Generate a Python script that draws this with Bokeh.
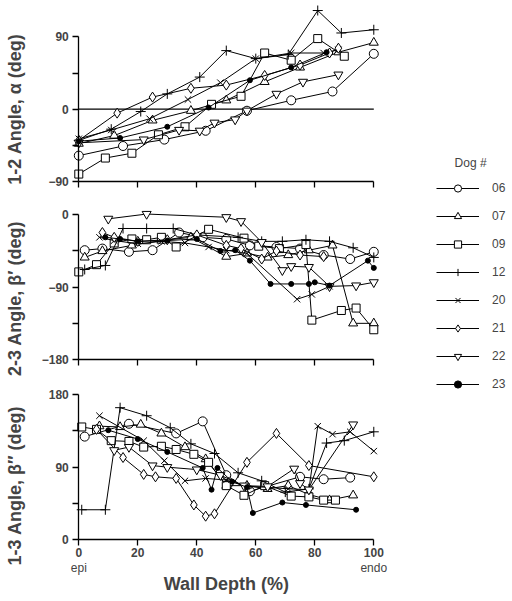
import math
from bokeh.plotting import figure
from bokeh.models import (Range1d, FixedTicker, Label, Legend, LegendItem, LinearAxis)
from bokeh.embed import file_html
from bokeh.resources import INLINE

DOGS = ["06", "07", "09", "12", "20", "21", "22", "23"]
X_TICKS = [0, 20, 40, 60, 80, 100]

# ---- 1-2 angle, alpha ----
a_x_06 = [0, 15, 29, 43, 57, 72, 86, 100]
a_y_06 = [-58, -46, -38, -27, -2, 11, 22, 69]
a_x_07 = [0, 12, 25, 38, 50, 63, 75, 88, 100]
a_y_07 = [-43, -33, -14, -2, 11, 34, 52, 71, 83]
a_x_09 = [0, 9, 18, 27, 36, 45, 55, 63, 72, 81, 90]
a_y_09 = [-81, -61, -55, -32, -22, 6, 16, 70, 61, 88, 66]
a_x_12 = [0, 11, 21, 30, 41, 50, 60, 71, 81, 89, 100]
a_y_12 = [-39, -25, -3, 19, 40, 73, 63, 68, 123, 95, 99]
a_x_20 = [0, 11, 24, 37, 48, 60, 72, 83, 88]
a_y_20 = [-37, -26, -12, 12, 33, 63, 70, 70, 74]
a_x_21 = [0, 13, 25, 38, 50, 63, 75, 85, 88]
a_y_21 = [-39, -5, 15, 26, 30, 42, 55, 70, 76]
a_x_22 = [0, 22, 34, 41, 46, 53, 57, 67, 76, 88]
a_y_22 = [-42, -38, -26, -27, -17, -13, -2, 19, 34, 43]
a_x_23 = [0, 14, 30, 44, 58, 72, 84]
a_y_23 = [-40, -36, -22, 2, 36, 52, 71]

# ---- 2-3 angle, beta' ----
b_x_06 = [2, 8, 17, 25, 34, 42, 50, 58, 67, 75, 83, 92, 100]
b_y_06 = [-44, -42, -46, -44, -22, -28, -30, -38, -40, -42, -50, -55, -46]
b_x_07 = [2, 8, 18, 28, 38, 50, 57, 64, 71, 78, 86, 93, 100]
b_y_07 = [-53, -45, -38, -32, -28, -52, -48, -53, -50, -44, -38, -135, -135]
b_x_09 = [0, 6, 12, 18, 23, 28, 33, 44, 56, 61, 68, 77, 79, 89, 94, 100]
b_y_09 = [-71, -62, -35, -30, -31, -28, -40, -18, -29, -39, -42, -37, -131, -119, -116, -143]
b_x_12 = [2, 9, 15, 23, 32, 40, 54, 62, 69, 77, 85, 93, 100]
b_y_12 = [-68, -63, -17, -17, -17, -25, -28, -33, -33, -31, -33, -41, -53]
b_x_20 = [7, 12, 20, 28, 36, 44, 50, 57, 74, 79, 85]
b_y_20 = [-28, -32, -36, -33, -35, -40, -44, -48, -105, -99, -89]
b_x_21 = [8, 12, 20, 30, 40, 50, 55, 62, 67, 75, 83]
b_y_21 = [-22, -28, -33, -31, -25, -38, -42, -55, -45, -50, -52]
b_x_22 = [10, 23, 50, 55, 62, 69, 72, 78, 85, 94, 100]
b_y_22 = [-5, 1, -3, -8, -34, -69, -64, -65, -89, -88, -84]
b_x_23 = [9, 14, 20, 30, 40, 48, 53, 58, 65, 72, 78, 80, 85, 98, 100]
b_y_23 = [-28, -30, -33, -32, -30, -45, -44, -57, -86, -86, -86, -84, -88, -57, -66]

# ---- 1-3 angle, beta'' ----
c_x_06 = [2, 17, 33, 42, 50, 58, 75, 83, 92]
c_y_06 = [128, 144, 132, 147, 80, 60, 78, 75, 77]
c_x_07 = [7, 14, 21, 28, 36, 43, 50, 57, 64, 71, 78, 85, 93]
c_y_07 = [141, 140, 143, 132, 115, 100, 67, 67, 63, 67, 56, 49, 55]
c_x_09 = [1, 6, 11, 17, 22, 28, 33, 39, 44, 50, 56, 63, 72, 78, 83, 87]
c_y_09 = [140, 137, 123, 122, 115, 116, 112, 106, 96, 67, 55, 67, 54, 53, 49, 49]
c_x_12 = [1, 9, 14, 23, 31, 38, 46, 54, 62, 70, 78, 84, 90, 100]
c_y_12 = [37, 37, 164, 154, 139, 119, 107, 83, 73, 59, 63, 120, 123, 134]
c_x_20 = [7, 22, 29, 36, 43, 50, 57, 64, 71, 78, 81, 86, 92, 100]
c_y_20 = [154, 123, 98, 73, 76, 74, 66, 65, 63, 62, 141, 131, 134, 110]
c_x_21 = [6, 15, 22, 26, 33, 39, 43, 46, 57, 67, 78, 100]
c_y_21 = [137, 102, 81, 78, 76, 43, 29, 32, 96, 132, 92, 78]
c_x_22 = [12, 17, 25, 30, 40, 48, 56, 64, 73, 75, 78, 93]
c_y_22 = [111, 115, 92, 90, 87, 80, 67, 66, 88, 70, 62, 143]
c_x_23 = [10, 20, 30, 42, 45, 47, 52, 57, 59, 69, 77, 94]
c_y_23 = [136, 125, 109, 89, 62, 89, 72, 65, 33, 46, 43, 37]

ALPHA = {"06": (a_x_06, a_y_06), "07": (a_x_07, a_y_07), "09": (a_x_09, a_y_09),
         "12": (a_x_12, a_y_12), "20": (a_x_20, a_y_20), "21": (a_x_21, a_y_21),
         "22": (a_x_22, a_y_22), "23": (a_x_23, a_y_23)}
BETA1 = {"06": (b_x_06, b_y_06), "07": (b_x_07, b_y_07), "09": (b_x_09, b_y_09),
         "12": (b_x_12, b_y_12), "20": (b_x_20, b_y_20), "21": (b_x_21, b_y_21),
         "22": (b_x_22, b_y_22), "23": (b_x_23, b_y_23)}
BETA2 = {"06": (c_x_06, c_y_06), "07": (c_x_07, c_y_07), "09": (c_x_09, c_y_09),
         "12": (c_x_12, c_y_12), "20": (c_x_20, c_y_20), "21": (c_x_21, c_y_21),
         "22": (c_x_22, c_y_22), "23": (c_x_23, c_y_23)}

STYLE = {
    "06": dict(marker="circle", size=9, fill_color="white"),
    "07": dict(marker="triangle", size=9, fill_color="white"),
    "09": dict(marker="square", size=8, fill_color="white"),
    "12": dict(marker="cross", size=10, fill_color=None),
    "20": dict(marker="x", size=9, fill_color=None),
    "21": dict(marker="diamond", size=10, fill_color="white"),
    "22": dict(marker="inverted_triangle", size=9, fill_color="white"),
    "23": dict(marker="circle", size=5, fill_color="black"),
}

FONT = "Liberation Sans"
W, H = 510, 598

# one frame covering the whole canvas; each panel has its own y scale
p = figure(width=W, height=H, x_range=Range1d(-26.54, 146.34),
           y_range=Range1d(-610.4, 135.5), output_backend="svg", toolbar_location=None,
           min_border=0, x_axis_type=None, y_axis_type=None)
p.extra_y_ranges = {"b1": Range1d(-477.4, 266.7), "b2": Range1d(-73.4, 670.6)}
p.outline_line_color = None
p.background_fill_color = "white"

PANELS = [
    # series, range name, y bounds, major, minor, title, title y
    (ALPHA, "default", (-90, 90), [-90, 0, 90], [-45, 45], "1-2 Angle, \u03b1 (deg)", 0),
    (BETA1, "b1", (-180, 0), [-180, -90, 0], [-135, -45], "2-3 Angle, \u03b2\u2032 (deg)", -104),
    (BETA2, "b2", (0, 180), [0, 90, 180], [45, 135], "1-3 Angle, \u03b2\u2033 (deg)", 67),
]

legend_items = []
for k, (series, rname, yb, ymaj, ymin, title, ty) in enumerate(PANELS):
    last = k == len(PANELS) - 1
    ya = LinearAxis(y_range_name=rname, fixed_location=0, bounds=yb,
                    ticker=FixedTicker(ticks=ymaj, minor_ticks=ymin))
    ya.major_tick_out = 6
    ya.major_tick_in = 0
    ya.minor_tick_out = 6
    ya.minor_tick_in = 0
    ya.axis_line_width = 1.3
    ya.major_tick_line_width = 1.3
    ya.minor_tick_line_width = 1.3
    ya.major_label_text_font = FONT
    ya.major_label_text_font_style = "bold"
    ya.major_label_text_font_size = "12px"
    ya.major_label_standoff = 4
    p.add_layout(ya, "left")

    xa = LinearAxis(y_range_name=rname, fixed_location=yb[0], bounds=(X_TICKS[0], X_TICKS[-1]),
                    ticker=FixedTicker(ticks=X_TICKS))
    xa.major_tick_out = 6
    xa.major_tick_in = 0
    xa.minor_tick_out = 0
    xa.axis_line_width = 1.3
    xa.major_tick_line_width = 1.3
    if last:
        xa.major_label_text_font = FONT
        xa.major_label_text_font_style = "bold"
        xa.major_label_text_font_size = "12px"
        xa.major_label_standoff = 2
    else:
        xa.major_label_overrides = {t: "" for t in X_TICKS}
        xa.major_label_text_font_size = "0px"
    p.add_layout(xa, "below")

    if k == 0:
        p.line(x=[X_TICKS[0], X_TICKS[-1]], y=[0, 0], line_color="black", line_width=1.3)

    for d in DOGS:
        xs, ys = series[d]
        rl = p.line(x=xs, y=ys, line_color="black", line_width=1, y_range_name=rname)
        rs = p.scatter(x=xs, y=ys, line_color="black", line_width=1, y_range_name=rname,
                       **STYLE[d])
        if k == 0:
            legend_items.append(LegendItem(label=d, renderers=[rl, rs]))

    p.add_layout(Label(x=-21.7, y=ty, y_range_name=rname, text=title, angle=math.pi / 2,
                       text_align="center", text_baseline="middle",
                       text_font=FONT, text_font_style="bold", text_font_size="18px"))

# bottom annotations
p.add_layout(Label(x=X_TICKS[0], y=-35, y_range_name="b2", text="epi", text_align="center",
                   text_baseline="middle", text_font=FONT, text_font_size="12px"))
p.add_layout(Label(x=X_TICKS[-1], y=-35, y_range_name="b2", text="endo", text_align="center",
                   text_baseline="middle", text_font=FONT, text_font_size="12px"))
p.add_layout(Label(x=50, y=-55, y_range_name="b2", text="Wall Depth (%)", text_align="center",
                   text_baseline="middle", text_font=FONT, text_font_style="bold",
                   text_font_size="18px"))

leg = Legend(items=legend_items, location=(436, 205), glyph_width=43, glyph_height=18,
             label_height=18, spacing=10, padding=0, margin=0, label_standoff=13,
             border_line_color=None, background_fill_alpha=0,
             label_text_font=FONT, label_text_font_size="12px")
p.add_layout(leg, "center")
p.add_layout(Label(x=132.8, y=-67.4, text="Dog #", text_align="center", text_baseline="middle",
                   text_font=FONT, text_font_size="12px"))

open("out.html", "w").write(file_html(p, INLINE))
